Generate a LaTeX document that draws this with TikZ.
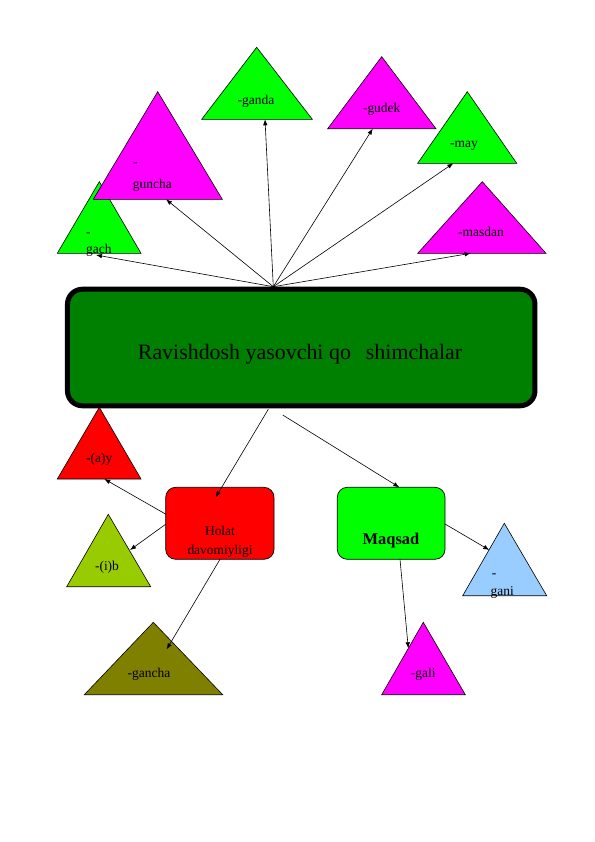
\documentclass[tikz,border=0pt]{standalone}
\usepackage{fontspec}
\setmainfont{Liberation Serif}
\usetikzlibrary{arrows.meta}
\definecolor{cgreen}{HTML}{00FF00}
\definecolor{cmag}{HTML}{FF00FF}
\definecolor{cdark}{HTML}{008000}
\definecolor{cred}{HTML}{FF0000}
\definecolor{cyel}{HTML}{99CC00}
\definecolor{colive}{HTML}{808000}
\definecolor{cblue}{HTML}{99CCFF}
\begin{document}
\begin{tikzpicture}[x=1bp,y=-1bp,
  conn/.style={-{Latex[length=6bp,width=4.5bp]}, line width=0.6bp},
  tri/.style={draw=black, line width=0.6bp},
  lbl/.style={font=\fontsize{13.5}{15}\selectfont, inner sep=0pt, anchor=base},
  lbll/.style={lbl, anchor=base west},
  box/.style={draw=black, line width=0.7bp, rounded corners=10bp}
]
\useasboundingbox (0,0) rectangle (595,842);

% top triangles
\filldraw[tri, fill=cgreen] (256.7,47.3) -- (312.3,119.3) -- (201.7,119.3) -- cycle;
\filldraw[tri, fill=cmag] (381.7,56.7) -- (436,128.7) -- (327.7,128.7) -- cycle;
\filldraw[tri, fill=cgreen] (467.3,91.7) -- (516.7,163.3) -- (417.7,163.3) -- cycle;
\filldraw[tri, fill=cmag] (482.3,181.7) -- (546,253.3) -- (417.7,253.3) -- cycle;
\filldraw[tri, fill=cgreen] (99.3,181.7) -- (141,253.3) -- (57.3,253.3) -- cycle;
\filldraw[tri, fill=cmag] (157.7,91.7) -- (222.3,199.3) -- (93.3,199.3) -- cycle;

\node[lbl] (tganda) at (256,104) {-ganda};
\node[lbl] (tgudek) at (381.7,112.7) {-gudek};
\node[lbl] (tmay) at (464,147.3) {-may};
\node[lbl] (tmasdan) at (481,236.7) {-masdan};
\node[lbll] (tguncha1) at (133,166) {-};
\node[lbll] (tguncha2) at (132.7,188.3) {guncha};
\node[lbll] (tgach1) at (86,236) {-};
\node[lbll] (tgach2) at (86,253.3) {gach};

% main box
\node[draw=black, line width=5bp, fill=cdark, rounded corners=15bp,
      minimum width=467.5bp, minimum height=116.6bp, inner sep=0pt] (main) at (301.2,347.5) {};
\node[inner sep=0pt, anchor=base, font=\fontsize{22}{26}\selectfont] (maintext) at (300,359)
  {Ravishdosh yasovchi qo\hspace{15bp}shimchalar};

\coordinate (hub) at (273.3,286.7);
\coordinate (eganda) at (265,119.3);
\coordinate (egudek) at (372.7,128.7);
\coordinate (emay) at (453.3,163.3);
\coordinate (emasdan) at (470.7,253.3);
\coordinate (eguncha) at (166,199.3);
\coordinate (egach) at (96,255);
\foreach \e in {eganda,egudek,emay,emasdan,eguncha,egach}
  \draw[conn] (hub) -- (\e);

% bottom triangles
\filldraw[tri, fill=cred] (99.3,407.3) -- (141,479) -- (57.3,479) -- cycle;
\filldraw[tri, fill=cyel] (108.3,514.3) -- (150.7,586.7) -- (66.7,586.7) -- cycle;
\filldraw[tri, fill=cblue] (504.3,523.3) -- (546.7,595.7) -- (462.7,595.7) -- cycle;
\filldraw[tri, fill=colive] (153.3,622.3) -- (222.7,694.7) -- (84.3,694.7) -- cycle;
\filldraw[tri, fill=cmag] (423.3,622.3) -- (465.3,694.7) -- (381.7,694.7) -- cycle;

\node[lbl] (tay) at (99.3,462.7) {-(a)y};
\node[lbl] (tib) at (107,570) {-(i)b};
\node[lbll] (tgani1) at (491.7,577) {-};
\node[lbll] (tgani2) at (490.5,595) {gani};
\node[lbl] (tgancha) at (149,677.3) {-gancha};
\node[lbl] (tgali) at (423.3,677.3) {-gali};

% boxes
\filldraw[box, fill=cred] (165.7,487.3) rectangle (274,559.3);
\node[lbl] (tholat1) at (220,535.7) {Holat};
\node[lbl] (tholat2) at (220,554) {davomiyligi};
\filldraw[box, fill=cgreen] (337.3,487.3) rectangle (445,559.3);
\node[lbl, font=\fontsize{16.5}{19}\selectfont\bfseries] (tmaqsad) at (391,544.3) {Maqsad};

\coordinate (m1) at (268.3,409.3);
\coordinate (hholat) at (215.7,497.3);
\coordinate (m2) at (282.7,415);
\coordinate (hmaqsad) at (399.3,487.3);
\draw[conn] (m1) -- (hholat);
\draw[conn] (m2) -- (hmaqsad);

\coordinate (h1) at (166,514.3);
\coordinate (eay) at (104.3,479);
\coordinate (h2) at (166,524);
\coordinate (eib) at (130,550);
\coordinate (h3) at (220,559.3);
\coordinate (egancha) at (166.7,649.3);
\coordinate (q1) at (400,559.3);
\coordinate (egali) at (408.3,648.3);
\coordinate (q2) at (445,524);
\coordinate (egani) at (489.3,550);
\draw[conn] (h1) -- (eay);
\draw[conn] (h2) -- (eib);
\draw[conn] (h3) -- (egancha);
\draw[conn] (q1) -- (egali);
\draw[conn] (q2) -- (egani);
\end{tikzpicture}
\end{document}
